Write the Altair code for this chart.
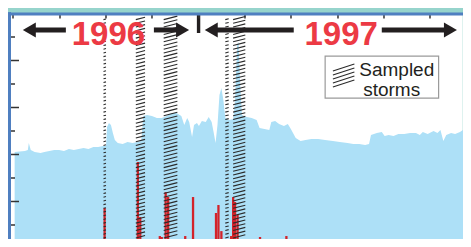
import altair as alt
import pandas as pd

# ---------------- data ----------------
# days since 1996-01-01 ; values in left-axis units (ticks at 1..9)
area_day = [3.3, 23.5, 29.3, 31.2, 35.1, 42.8, 54.4, 62, 71.7, 81.4, 91, 100.6, 110.3, 120, 129.6,
            139.2, 148.8, 158.5, 168, 177.8, 183.5, 185.5, 189.3, 193.2, 197, 200.9, 206.7, 216.3,
            226, 235.6, 245.2, 253, 257, 264.5, 274, 283.8, 293.4, 303, 312.7, 322.4, 332, 337.8,
            343.6, 347.5, 353.2, 357, 362.8, 366.7, 372.5, 380.2, 386, 391.8, 395.6, 399.5, 403.3,
            407.2, 411, 414.9, 418.8, 426.5, 434.2, 438, 442, 444.8, 447.7, 451.5, 461.2, 470.8,
            480.5, 486.3, 496, 505.5, 509.4, 517, 524.8, 534.4, 542, 548, 557.6, 567.2, 577, 588.5,
            602, 615.5, 630.9, 644.4, 659.8, 671.3, 683, 694.5, 702.2, 706, 717.6, 727.3, 733,
            740.8, 750.5, 760, 771.6, 783.2, 794.7, 802.4, 808.2, 817.8, 829.4, 837.1, 843, 848.7,
            854.5, 864, 871.9, 881.5, 887.3, 893]
area_val = [4.11, 4.15, 4.19, 4.49, 4.19, 4.11, 4.06, 4.11, 4.15, 4.19, 4.19, 4.15, 4.23, 4.19, 4.23,
            4.28, 4.23, 4.32, 4.32, 4.36, 4.36, 5.17, 5.34, 5.26, 4.91, 4.62, 4.49, 4.45, 4.53, 4.49,
            4.53, 4.57, 5.64, 5.68, 5.64, 5.55, 5.55, 5.64, 5.77, 5.77, 5.64, 5.26, 5.55, 5.38, 4.74,
            5.26, 5.34, 5.21, 5.43, 5.38, 5.6, 5.38, 4.96, 4.49, 5.26, 6.53, 6.83, 6.32, 5.55, 5.47,
            5.51, 6.32, 8.66, 8.79, 7.17, 5.68, 5.6, 5.55, 5.47, 5.13, 5.09, 5.04, 5.38, 5.43, 5.3,
            5.21, 5.3, 5.09, 4.7, 4.57, 4.62, 4.66, 4.66, 4.62, 4.57, 4.53, 4.49, 4.45, 4.45, 4.4,
            4.45, 4.83, 4.91, 4.96, 4.79, 4.83, 4.79, 4.87, 4.87, 4.91, 4.91, 4.83, 4.96, 4.87, 5.0,
            4.91, 5.04, 4.57, 4.83, 4.91, 4.87, 4.96, 5.04, 4.7]
bar_day = [180.7, 246.2, 251, 289.6, 293.4, 301.1, 306, 339.7, 355.1, 358, 368.6, 372.5, 376.3,
           380.2, 400.4, 405.2, 411, 424.5, 427.4, 430.3, 434.2, 438, 442.9, 487.2, 490, 539.2]
bar_val = [1.72, 3.68, 1.34, 0.53, 0.49, 2.4, 2.19, 0.53, 2.19, 0.19, 0.28, 0.23, 0.28,
           0.19, 1.51, 1.85, 0.74, 0.19, 0.32, 0.53, 2.19, 1.98, 1.43, 0.49, 0.19, 0.53]
storm_start = [178.5, 242.2, 297.2, 418.7, 434.1]
storm_end = [183.4, 260.5, 324.2, 425.4, 458.2]
year_text = ["1996", "1997"]
year_day = [188.2, 647.3]
year_val = [8.66, 8.66]
year_split_day = 366
arrow_val = 9.30
arrow_tip_left = [19.4, 378.2]
arrow_tip_right = [347.3, 875.5]
shaft_start = [38.7, 277.9, 397.5, 727.3]
shaft_end = [104.3, 328.0, 553.7, 856.0]
legend_text = ["Sampled", "storms"]
legend_text_val = [7.34, 6.51]
legend_text_day = [683.0, 690.7]
legend_box_day = [615.6, 839.4]
legend_box_val = [6.40, 8.19]
legend_icon_day = [630.9, 673.3]
major_ticks = [2, 4, 6, 8]
minor_ticks = [1, 3, 5, 7, 9]

# ---------------- helpers ----------------
BASE = pd.Timestamp("1996-01-01")
PX_DAY = 0.5185
PX_UNIT = 23.5
W, H = 453.2, 225.5


def iso(d):
    return (BASE + pd.Timedelta(days=d)).strftime("%Y-%m-%dT%H:%M:%SZ")


BLUE = "#ade0f7"
RED = "#d3232a"
TXT_RED = "#ec3a44"
DARK = "#231f20"
BORDER = "#4f7fc0"
TICK = "#333333"

xs = alt.Scale(type="utc", nice=False,
               domain=[alt.DateTime(year=1996, month=1, date=4, utc=True),
                       alt.DateTime(year=1998, month=5, date=27, utc=True)])
ys = alt.Scale(domain=[0.404, 10], nice=False, zero=False)

top_axis = alt.Axis(orient="bottom", offset=-H, labels=False, title=None, grid=False,
                    domain=True, domainColor=BORDER, domainWidth=3,
                    ticks=True, tickColor=TICK, tickWidth=1.5, tickSize=4.5,
                    tickCount={"interval": "month", "step": 3}, zindex=1)

area_df = pd.DataFrame({"date": [iso(d) for d in area_day], "v": area_val})
bar_df = pd.DataFrame({"date": [iso(d) for d in bar_day], "v": bar_val})

# hatch strokes for the sampled-storm bands
hatch_rows = []
step = 3.7 / PX_UNIT
for s, e in zip(storm_start, storm_end):
    rise = 0.25 * (e - s) * PX_DAY / PX_UNIT
    v = 0.45
    while v + rise < 9.9:
        hatch_rows.append({"x": iso(s), "x2": iso(e), "y": v, "y2": v + rise})
        v += step
hatch_df = pd.DataFrame(hatch_rows)

area = alt.Chart(area_df).mark_area(color=BLUE, interpolate="linear").encode(
    x=alt.X("date:T", scale=xs, axis=top_axis),
    y=alt.Y("v:Q", scale=ys, axis=None),
)
bars = alt.Chart(bar_df).mark_bar(color=RED, size=2.3).encode(
    x=alt.X("date:T", scale=xs, axis=None),
    y=alt.Y("v:Q", scale=ys, axis=None),
)
hatch = alt.Chart(hatch_df).mark_rule(color="#2a2a2a", strokeWidth=1.1).encode(
    x=alt.X("x:T", scale=xs, axis=None), x2="x2:T",
    y=alt.Y("y:Q", scale=ys, axis=None), y2="y2:Q",
)
# inward y ticks on the left edge
major = alt.Chart(pd.DataFrame({"y": major_ticks})).mark_rule(color=TICK, strokeWidth=1.5).encode(
    x=alt.value(0), x2=alt.value(9.5),
    y=alt.Y("y:Q", scale=ys, axis=None),
)
minor = alt.Chart(pd.DataFrame({"y": minor_ticks})).mark_rule(color=TICK, strokeWidth=1.5).encode(
    x=alt.value(0), x2=alt.value(5.5),
    y=alt.Y("y:Q", scale=ys, axis=None),
)
# left frame line of the plot area
frame_left = alt.Chart(pd.DataFrame({"y": [0.404], "y2": [10.06]})).mark_rule(
    color=BORDER, strokeWidth=3).encode(
    x=alt.value(0),
    y=alt.Y("y:Q", scale=ys, axis=None), y2="y2:Q",
)
split_df = pd.DataFrame({"x": [iso(year_split_day)], "y": [9.17], "y2": [10.0]})
split = alt.Chart(split_df).mark_rule(color=DARK, strokeWidth=3.4).encode(
    x=alt.X("x:T", scale=xs, axis=None),
    y=alt.Y("y:Q", scale=ys, axis=None), y2="y2:Q",
)
shaft_df = pd.DataFrame({"x": [iso(d) for d in shaft_start], "x2": [iso(d) for d in shaft_end],
                         "y": [arrow_val] * len(shaft_start)})
shafts = alt.Chart(shaft_df).mark_rule(color=DARK, strokeWidth=5).encode(
    x=alt.X("x:T", scale=xs, axis=None), x2="x2:T",
    y=alt.Y("y:Q", scale=ys, axis=None),
)
LEFT_HEAD = "M0,0L2,-1.15L2,1.15Z"
RIGHT_HEAD = "M0,0L-2,-1.15L-2,1.15Z"
head_df = pd.DataFrame({
    "x": [iso(d) for d in arrow_tip_left + arrow_tip_right],
    "y": [arrow_val] * 4,
    "shape": [LEFT_HEAD] * len(arrow_tip_left) + [RIGHT_HEAD] * len(arrow_tip_right),
})
heads = alt.Chart(head_df).mark_point(filled=True, size=169, color=DARK, opacity=1,
                                      strokeWidth=0).encode(
    x=alt.X("x:T", scale=xs, axis=None),
    y=alt.Y("y:Q", scale=ys, axis=None),
    shape=alt.Shape("shape:N", scale=None, legend=None),
)
year_df = pd.DataFrame({"x": [iso(d) for d in year_day], "y": year_val, "t": year_text})
years = alt.Chart(year_df).mark_text(font="Liberation Sans", fontSize=33, fontWeight="bold",
                                     color=TXT_RED, align="center", baseline="alphabetic").encode(
    x=alt.X("x:T", scale=xs, axis=None),
    y=alt.Y("y:Q", scale=ys, axis=None),
    text="t:N",
)
box_df = pd.DataFrame({"x": [iso(legend_box_day[0])], "x2": [iso(legend_box_day[1])],
                       "y": [legend_box_val[0]], "y2": [legend_box_val[1]]})
box = alt.Chart(box_df).mark_rect(fill="white", stroke="#9a9a9a", strokeWidth=1.2).encode(
    x=alt.X("x:T", scale=xs, axis=None), x2="x2:T",
    y=alt.Y("y:Q", scale=ys, axis=None), y2="y2:Q",
)
icon_rows = []
for k in range(5):
    icon_rows.append({"x": iso(legend_icon_day[0]), "x2": iso(legend_icon_day[1]),
                      "y": (248.5 - (71 + 4 * k)) / PX_UNIT,
                      "y2": (248.5 - (64 + 4 * k)) / PX_UNIT})
icon_df = pd.DataFrame(icon_rows)
icon = alt.Chart(icon_df).mark_rule(color="#2a2a2a", strokeWidth=1.1).encode(
    x=alt.X("x:T", scale=xs, axis=None), x2="x2:T",
    y=alt.Y("y:Q", scale=ys, axis=None), y2="y2:Q",
)
ltext_df = pd.DataFrame({"x": [iso(d) for d in legend_text_day], "y": legend_text_val,
                         "t": legend_text})
ltext = alt.Chart(ltext_df).mark_text(font="Liberation Sans", fontSize=19, color=DARK,
                                      align="left", baseline="alphabetic").encode(
    x=alt.X("x:T", scale=xs, axis=None),
    y=alt.Y("y:Q", scale=ys, axis=None),
    text="t:N",
)

chart = alt.layer(area, bars, hatch, major, minor, split, shafts, heads, years, box, icon,
                  ltext, frame_left).resolve_axis(
    x="independent"
).properties(
    width=W, height=H, autosize="none",
    padding={"left": 1.5, "top": 5.5, "right": 0, "bottom": 0},
    background="#96d4cc",
).configure_view(strokeWidth=0, fill="white")

chart.save("out.html", embed_options={"renderer": "svg", "actions": False})
